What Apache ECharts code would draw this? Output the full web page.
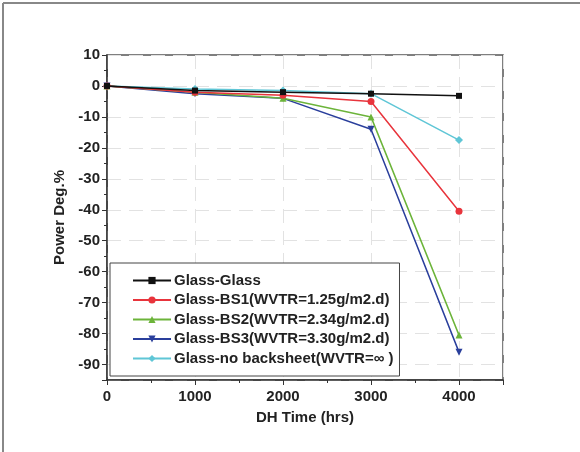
<!DOCTYPE html>
<html>
<head>
<meta charset="utf-8">
<script src="https://cdn.jsdelivr.net/npm/echarts@6/dist/echarts.min.js"></script>
<style>html,body{margin:0;padding:0;background:#fff;}#c{width:580px;height:452px;}</style>
</head>
<body>
<div id="c"></div>
<script>
const hours = [0, 1000, 2000, 3000, 4000];
const glassGlass = [0, -1.5, -2, -2.5, -3.2];
const glassBS1 = [0, -2, -3, -5, -40.5];
const glassBS2 = [0, -2, -4, -10, -80.5];
const glassBS3 = [0, -2.5, -4, -14, -86];
const glassNoBS = [0, -1, -1.5, -2.5, -17.5];
const seriesNames = ['Glass-Glass', 'Glass-BS1(WVTR=1.25g/m2.d)', 'Glass-BS2(WVTR=2.34g/m2.d)', 'Glass-BS3(WVTR=3.30g/m2.d)', 'Glass-no backsheet(WVTR=\u221e )'];
const xTitle = 'DH Time (hrs)';
const yTitle = 'Power Deg.%';

const colors = ['#111111', '#e8343c', '#6cb43a', '#2a3f9c', '#5fc6d6'];
const symbols = ['rect', 'circle', 'triangle', 'triangle', 'diamond'];
const rotates = [0, 0, 0, 180, 0];
const sizes = [6, 7, 7, 7, 8];
const values = [glassGlass, glassBS1, glassBS2, glassBS3, glassNoBS];

const font = 'Liberation Sans, Arial, sans-serif';
const chart = echarts.init(document.getElementById('c'));
chart.setOption({
  animation: false,
  backgroundColor: '#fff',
  graphic: [
    { type: 'line', shape: { x1: 3, y1: 3, x2: 580, y2: 3 }, style: { stroke: '#888', lineWidth: 2 } },
    { type: 'line', shape: { x1: 3, y1: 3, x2: 3, y2: 452 }, style: { stroke: '#888', lineWidth: 2 } }
  ],
  grid: { left: 107, top: 55, width: 396, height: 325, show: true, borderColor: '#555', borderWidth: 1.5, backgroundColor: 'transparent' },
  legend: {
    orient: 'vertical', left: 110, top: 263,
    backgroundColor: '#fff', borderColor: '#444', borderWidth: 1,
    padding: [10, 6, 10, 22], itemGap: 4.5, itemWidth: 38, itemHeight: 9,
    textStyle: { fontFamily: font, fontWeight: 'bold', fontSize: 15, color: '#222', padding: [0, 0, 0, -2] },
    data: seriesNames
  },
  xAxis: {
    type: 'value', min: 0, max: 4500, interval: 1000,
    name: xTitle, nameLocation: 'middle', nameGap: 30,
    nameTextStyle: { fontFamily: font, fontWeight: 'bold', fontSize: 15, color: '#222' },
    axisLine: { show: true, onZero: false, lineStyle: { color: '#333', width: 1.5 } },
    axisTick: { show: true, inside: false, length: 5, lineStyle: { color: '#333' } },
    minorTick: { show: true, splitNumber: 2, length: 3, lineStyle: { color: '#333' } },
    axisLabel: { showMaxLabel: false, margin: 9, formatter: v => String(v), fontFamily: font, fontWeight: 'bold', fontSize: 15, color: '#222' },
    splitLine: { show: true, lineStyle: { color: '#e2e2e2', type: [14, 8], width: 1 } }
  },
  yAxis: {
    type: 'value', min: -95, max: 10, splitNumber: 10,
    name: yTitle, nameLocation: 'middle', nameGap: 40,
    nameTextStyle: { fontFamily: font, fontWeight: 'bold', fontSize: 15, color: '#222' },
    axisLine: { show: true, onZero: false, lineStyle: { color: '#333', width: 1.5 } },
    axisTick: { show: true, inside: false, length: 5, lineStyle: { color: '#333' } },
    minorTick: { show: true, splitNumber: 2, length: 3, lineStyle: { color: '#333' } },
    axisLabel: { showMinLabel: false, margin: 7, formatter: v => String(v), fontFamily: font, fontWeight: 'bold', fontSize: 15, color: '#222' },
    splitLine: { show: true, lineStyle: { color: '#e2e2e2', type: [14, 8], width: 1 } }
  },
  series: values.map((v, i) => ({
    name: seriesNames[i], type: 'line',
    data: hours.map((h, j) => [h, v[j]]),
    symbol: symbols[i], symbolRotate: rotates[i], symbolSize: sizes[i],
    lineStyle: { color: colors[i], width: 1.5 },
    itemStyle: { color: colors[i] },
    z: 10 - i
  }))
});
</script>
</body>
</html>
